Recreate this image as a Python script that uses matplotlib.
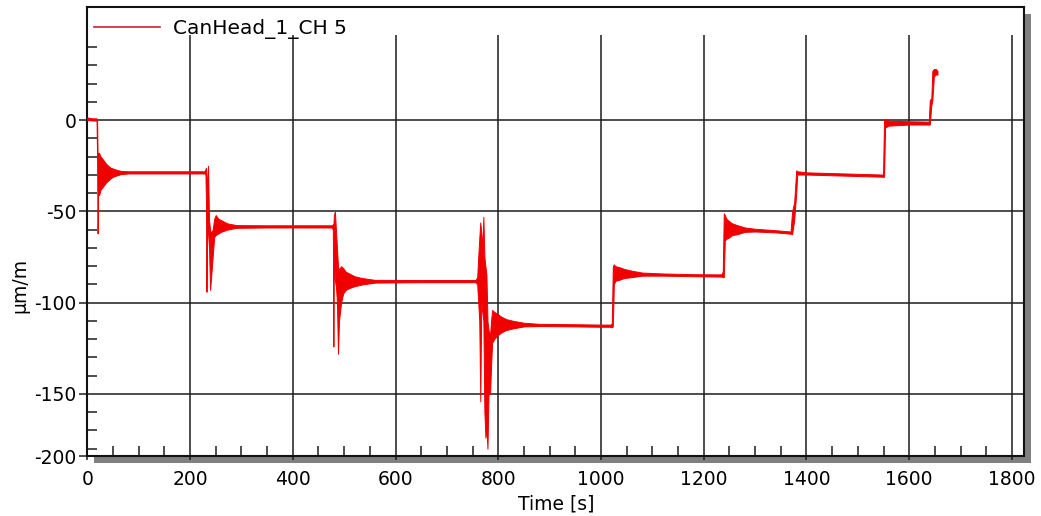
import matplotlib
matplotlib.use('Agg')
import matplotlib.pyplot as plt
from matplotlib.lines import Line2D
from matplotlib.patches import Rectangle
from matplotlib.ticker import FixedLocator, MultipleLocator

# ---- data (min/max envelope of the signal) ----
time_s = [0, 5, 10, 18, 19, 20, 21, 23, 26, 29, 33, 37, 41, 45, 50, 55, 65, 80, 100, 150, 200, 228,
          230, 231, 232, 233, 235, 237, 239, 241, 244, 247, 250, 255, 262, 272, 290, 350, 420, 476,
          478, 479, 480, 482, 484, 486, 488, 490, 494, 498, 503, 510, 520, 535, 560, 650, 756,
          759, 761, 763, 765, 767, 769, 771, 773, 775, 777, 779, 781, 784, 786, 788, 792, 798, 805,
          815, 830, 850, 880, 950, 1000, 1018,
          1021, 1023, 1025, 1028, 1035, 1045, 1060, 1080, 1120, 1180, 1234,
          1237, 1239, 1241, 1244, 1248, 1255, 1265, 1280, 1300, 1340, 1369,
          1372, 1376, 1380, 1382, 1400, 1450, 1500, 1549,
          1551, 1553, 1560, 1600, 1638, 1640, 1643, 1645, 1648, 1652, 1655]
upper = [1.5, 1.2, 1.0, 1.0, 0.5, -18, -18, -18, -20, -21, -22.5, -24, -25, -26, -26.5, -27, -27.8, -28, -28, -28, -28, -28,
         -27, -26, -30, -40, -25, -55, -60, -62, -60, -54, -52, -54, -55, -56.5, -57.5, -57.6, -57.6, -57.6,
         -57, -58, -52, -50, -60, -70, -80, -82, -80, -81, -83, -84, -85.5, -86.5, -87.5, -87.6, -87.6,
         -86, -75, -65, -56, -62, -70, -53, -75, -80, -85, -110, -115, -118, -110, -104, -105, -106, -107.5,
         -109, -110, -111, -111.6, -111.8, -112, -112,
         -111.5, -80, -79, -80, -80.5, -81.5, -82.5, -83.5, -84, -84.4, -84.5,
         -83, -51, -52, -54, -55, -56.5, -57.5, -58.8, -59.5, -60.3, -61,
         -50, -45, -27.5, -28, -28.6, -29, -29.4, -29.8,
         0, 0.5, -0.3, -0.6, -0.8, 11, 12, 27, 28, 28, 27]
lower = [0, 0, -0.2, -0.2, -20, -62, -40, -41, -38, -37, -35.5, -34, -33, -32, -31, -30.5, -29.6, -29.2, -29.2, -29.2, -29.2, -29.2,
         -30, -45, -94, -60, -62, -70, -93, -86, -75, -64, -63, -62, -61, -60, -59, -58.8, -58.8, -58.8,
         -60, -124, -70, -88, -91, -100, -128, -110, -100, -95, -93, -92, -91, -90, -89, -88.8, -88.8,
         -90, -100, -110, -154, -100, -105, -110, -160, -174, -169, -180, -150, -150, -135, -122, -120, -118, -116.5,
         -115, -114, -113, -112.8, -113, -113.2, -113.2,
         -113.5, -113, -90, -88, -87.5, -86.5, -86, -85.2, -85.2, -85.5, -85.7,
         -86, -86, -66, -65, -64.5, -63, -62.5, -61.2, -61, -61.5, -62.2,
         -62.5, -55, -40, -29.8, -29.8, -30.2, -30.6, -31,
         -31, -4, -3, -2.4, -2.4, -2.4, 8, 11, 24, 25, 25]
series_name = "CanHead_1_CH 5"

x_ticks = [0, 200, 400, 600, 800, 1000, 1200, 1400, 1600, 1800]
y_ticks = [-184, -150, -100, -50, 0]
y_tick_labels = ['-200', '-150', '-100', '-50', '0']

# ---- style ----
plt.rcParams['font.family'] = ['DejaVu Sans']
plt.rcParams['font.size'] = 13.5
plt.rcParams['axes.unicode_minus'] = False

RED = '#f00000'
GRID = '#1c1c1c'
W, H = 1041, 516
fig = plt.figure(figsize=(W / 100, H / 100), dpi=100)

ax_left, ax_right, ax_top, ax_bottom = 87.3, 1024.3, 7.0, 456.0
rect = [ax_left / W, 1 - ax_bottom / H, (ax_right - ax_left) / W, (ax_bottom - ax_top) / H]

# drop shadow behind the plot frame
shadow = Rectangle((rect[0] + 7 / W, rect[1] - 7 / H), rect[2], rect[3],
                   transform=fig.transFigure, facecolor='#808080', edgecolor='none', zorder=-5)
fig.patches.append(shadow)

ax = fig.add_axes(rect)
ax.set_zorder(1)
ax.set_facecolor('white')
ax.set_xlim(0, 1824)
ax.set_ylim(-184, 62)

# grid
for y in [0, -50, -100, -150]:
    ax.axhline(y, color=GRID, lw=1.1, zorder=1)
ax.vlines(x_ticks[1:], -184, 46.6, color=GRID, lw=1.1, zorder=1)

# trace (envelope)
ax.fill_between(time_s, lower, upper, facecolor=RED, edgecolor=RED, lw=0.7, zorder=3)

# ticks
ax.xaxis.set_major_locator(FixedLocator(x_ticks))
ax.xaxis.set_minor_locator(MultipleLocator(50))
ax.yaxis.set_major_locator(FixedLocator(y_ticks))
ax.set_yticklabels(y_tick_labels)
ax.yaxis.set_minor_locator(FixedLocator(list(range(-180, 41, 10))))
ax.tick_params(axis='x', which='major', direction='out', length=3, width=1.1, pad=7, color=GRID)
ax.tick_params(axis='x', which='minor', direction='in', length=7.5, width=1.1, color=GRID)
ax.tick_params(axis='y', which='major', direction='out', length=6, width=1.1, pad=2, color=GRID)
ax.tick_params(axis='y', which='minor', direction='in', length=7, width=1.1, color=GRID)

for s in ax.spines.values():
    s.set_linewidth(1.5)
    s.set_color('#111111')

ax.set_xlabel('Time [s]', labelpad=4)
ax.set_ylabel('µm/m')
ax.yaxis.set_label_coords(-0.062, 0.38)

handle = Line2D([], [], color='#d02030', lw=1.2)
ax.legend([handle], [series_name], loc='upper left', bbox_to_anchor=(-0.008, 1.005),
          frameon=False, handlelength=3.3, handletextpad=0.65, borderaxespad=0.3,
          fontsize=14.5)

fig.savefig('out.png', dpi=100)
